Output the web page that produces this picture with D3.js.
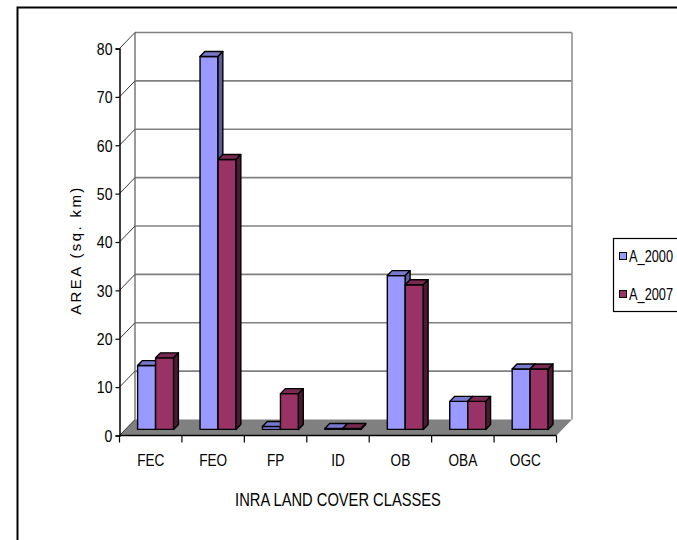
<!DOCTYPE html>
<html>
<head>
<meta charset="utf-8">
<script src="https://cdn.jsdelivr.net/npm/d3@7"></script>
<style>
  html, body { margin: 0; padding: 0; background: #fff; overflow: hidden; }
  svg { display: block; }
  text { font-family: "Liberation Sans", Arial, sans-serif; fill: #000; }
</style>
</head>
<body>
<svg id="chart" width="677" height="540"></svg>
<script>
// Land cover classes and area (sq. km) for the two dates
const categories = ["FEC", "FEO", "FP", "ID", "OB", "OBA", "OGC"];
const seriesNames = ["A_2000", "A_2007"];
const areaA = [13.2, 77.1, 0.6, 0.2, 31.8, 5.8, 12.5];
const areaB = [14.8, 55.8, 7.4, 0.2, 29.9, 5.8, 12.5];
const yTicks = [0, 10, 20, 30, 40, 50, 60, 70, 80];

const seriesValues = [areaA, areaB];
const faceColors = [
  { front: "#9999ff", top: "#7878cc", side: "#5c5c99" },
  { front: "#993366", top: "#7a2952", side: "#4d1a33" }
];

const svg = d3.select("#chart");

// condensed text: place at (x, y) and squeeze horizontally
function narrowText(sel, px, py, k) {
  return sel.attr("transform", `translate(${px},${py}) scale(${k},1)`);
}

// outer chart frame
svg.append("rect")
  .attr("x", 17.5).attr("y", 7.5)
  .attr("width", 700).attr("height", 560)
  .attr("fill", "#fff").attr("stroke", "#000").attr("stroke-width", 2);

// front plane of the plot and depth vector of the 3D box
const plot = { left: 119.5, right: 556.5, top: 48.5, bottom: 435.5 };
const depth = { dx: 15.5, dy: -16 };
const barFront = 0.38;   // fraction of depth where bar faces start
const barDepth = 0.31;   // fraction of depth taken by a bar

const x = d3.scaleBand().domain(categories).range([plot.left, plot.right]).paddingInner(0).paddingOuter(0);
const y = d3.scaleLinear().domain([0, 80]).range([plot.bottom, plot.top]);

// floor
const floorPts = [
  [plot.left, plot.bottom],
  [plot.left + depth.dx, plot.bottom + depth.dy],
  [plot.right + depth.dx, plot.bottom + depth.dy],
  [plot.right, plot.bottom]
];
svg.append("polygon")
  .attr("points", floorPts.map(p => p.join(",")).join(" "))
  .attr("fill", "#808080");

// back wall gridlines
const grid = svg.append("g");
grid.selectAll("line.h").data(yTicks.filter(t => t > 0)).join("line")
  .attr("x1", plot.left + depth.dx).attr("x2", plot.right + depth.dx)
  .attr("y1", d => y(d) + depth.dy).attr("y2", d => y(d) + depth.dy)
  .attr("stroke", "#808080").attr("stroke-width", 1.6);
// back wall edges
grid.append("line")
  .attr("x1", plot.left + depth.dx).attr("x2", plot.left + depth.dx)
  .attr("y1", y(80) + depth.dy).attr("y2", y(0) + depth.dy)
  .attr("stroke", "#808080").attr("stroke-width", 1.6);
grid.append("line")
  .attr("x1", plot.right + depth.dx).attr("x2", plot.right + depth.dx)
  .attr("y1", y(80) + depth.dy).attr("y2", y(0) + depth.dy)
  .attr("stroke", "#909090").attr("stroke-width", 1.6);
// side wall slanted gridlines
grid.selectAll("line.d").data(yTicks).join("line")
  .attr("x1", plot.left).attr("x2", plot.left + depth.dx)
  .attr("y1", d => y(d)).attr("y2", d => y(d) + depth.dy)
  .attr("stroke", "#222").attr("stroke-width", 0.9);

// 3D bars
const bw = 18;
const offX = depth.dx * barFront, offY = depth.dy * barFront;
const ddx = depth.dx * barDepth, ddy = depth.dy * barDepth;
const bars = svg.append("g").attr("stroke", "#000").attr("stroke-width", 1.4).attr("stroke-linejoin", "round");
categories.forEach((c, i) => {
  const cx = x(c) + x.bandwidth() / 2 + offX - 1;
  seriesValues.forEach((vals, s) => {
    const v = vals[i];
    const x0 = cx - bw + s * bw, x1 = x0 + bw;
    const yb = y(0) + offY, yt = y(v) + offY;
    const col = faceColors[s];
    bars.append("rect")
      .attr("x", x0).attr("y", yt).attr("width", bw).attr("height", yb - yt)
      .attr("fill", col.front);
    bars.append("polygon")
      .attr("points", [[x0, yt], [x0 + ddx, yt + ddy], [x1 + ddx, yt + ddy], [x1, yt]].map(p => p.join(",")).join(" "))
      .attr("fill", col.top);
    bars.append("polygon")
      .attr("points", [[x1, yt], [x1 + ddx, yt + ddy], [x1 + ddx, yb + ddy], [x1, yb]].map(p => p.join(",")).join(" "))
      .attr("fill", col.side);
  });
});

// value axis on the front plane
const yAxis = svg.append("g")
  .attr("transform", `translate(${plot.left},0)`)
  .call(d3.axisLeft(y).tickValues(yTicks).tickSize(4).tickPadding(3).tickFormat(d3.format("d")));
yAxis.select(".domain").attr("stroke", "#000").attr("stroke-width", 1.5);
yAxis.selectAll(".tick line").attr("stroke", "#000").attr("stroke-width", 1.2);
yAxis.selectAll(".tick text")
  .attr("fill", "#000")
  .style("font-family", "'Liberation Sans', Arial, sans-serif")
  .style("font-size", "16px")
  .attr("x", -8).attr("dy", "0.36em")
  .attr("transform", "scale(0.88,1)");

// category axis along the front edge of the floor
const xAxis = svg.append("g");
xAxis.append("line")
  .attr("x1", plot.left).attr("x2", plot.right)
  .attr("y1", plot.bottom).attr("y2", plot.bottom)
  .attr("stroke", "#000").attr("stroke-width", 1.5);
const bounds = categories.map(c => x(c)).concat([plot.right]);
xAxis.selectAll("line.t").data(bounds).join("line")
  .attr("x1", d => d).attr("x2", d => d)
  .attr("y1", plot.bottom).attr("y2", plot.bottom + 7)
  .attr("stroke", "#000").attr("stroke-width", 1.2);
xAxis.selectAll("text").data(categories).join("text")
  .attr("text-anchor", "middle")
  .style("font-size", "17px")
  .each(function (d) { narrowText(d3.select(this), x(d) + x.bandwidth() / 2, 466, 0.8); })
  .text(d => d);

// axis titles
narrowText(svg.append("text"), 338, 506, 0.84)
  .attr("text-anchor", "middle")
  .style("font-size", "17.5px")
  .text("INRA LAND COVER CLASSES");

svg.append("text")
  .attr("transform", "translate(81,250) rotate(-90)")
  .attr("text-anchor", "middle")
  .style("font-size", "15px")
  .style("letter-spacing", "2.4px")
  .text("AREA (sq. km)");

// legend
const legend = svg.append("g");
legend.append("rect")
  .attr("x", 613.5).attr("y", 238.5).attr("width", 100).attr("height", 73)
  .attr("fill", "#fff").attr("stroke", "#000").attr("stroke-width", 1.2);
seriesNames.forEach((name, s) => {
  const ly = 252.5 + s * 38;
  legend.append("rect")
    .attr("x", 619.5).attr("y", ly).attr("width", 7).attr("height", 7)
    .attr("fill", faceColors[s].front).attr("stroke", "#000").attr("stroke-width", 1);
  narrowText(legend.append("text"), 629, ly + 9.5, 0.8)
    .style("font-size", "16px")
    .text(name);
});
</script>
</body>
</html>
